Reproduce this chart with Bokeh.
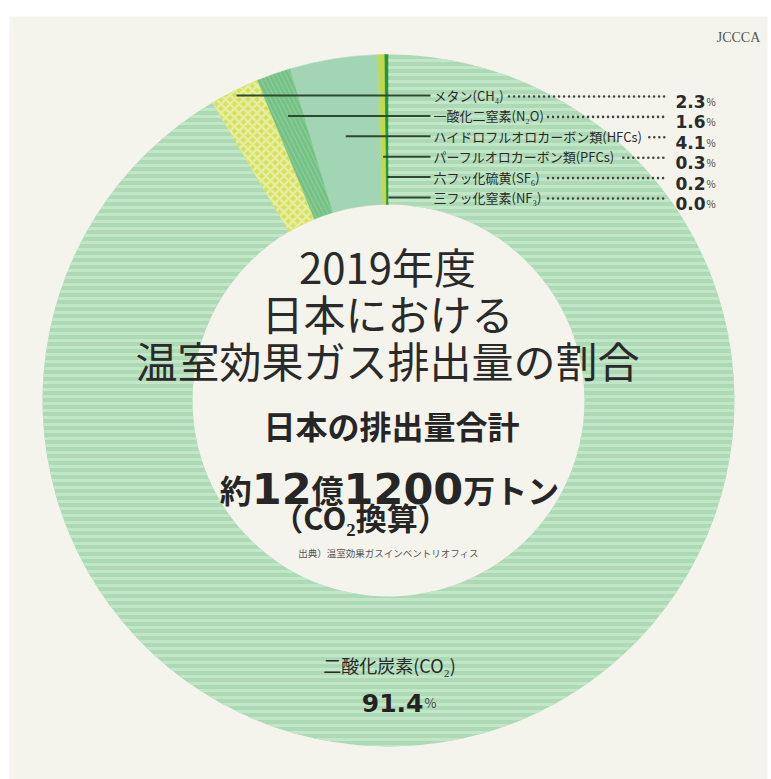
import math
from bokeh.plotting import figure
from bokeh.models import Range1d
from bokeh.core.properties import value
from bokeh.embed import file_html
from bokeh.resources import INLINE

# ---------------- data ----------------
gas_labels = ["メタン(CH₄)", "一酸化二窒素(N₂O)", "ハイドロフルオロカーボン類(HFCs)",
              "パーフルオロカーボン類(PFCs)", "六フッ化硫黄(SF₆)", "三フッ化窒素(NF₃)"]
gas_shares = [2.3, 1.6, 4.1, 0.3, 0.2, 0.0]
gas_colors = ["#d5e15a", "#86cb95", "#a2d5b3", "#c4d94a", "#22973a", "#1b8f33"]
gas_hatch = ["diagonal_cross", "left_diagonal_line", None, None, None, None]
gas_hatch_colors = ["#e8eea8", "#72c083", None, None, None, None]
co2_label = "二酸化炭素(CO₂)"
co2_share = 91.4
title_lines = ["2019年度", "日本における", "温室効果ガス排出量の割合"]
total_heading = "日本の排出量合計"
total_parts = ["約", "12", "億", "1200", "万トン"]
total_kinds = ["kanji", "num", "kanji", "num", "kanji"]
total_note = "（CO₂換算）"
source_note = "出典）温室効果ガスインベントリオフィス"
logo_text = "JCCCA"

# ---------------- layout ----------------
W, H = 771, 779
JP = "Noto Sans CJK JP"
NUM = "DejaVu Sans"


def Y(py):
    return H - py


def est_w(s, fs):
    w = 0.0
    for ch in s:
        o = ord(ch)
        if o >= 0x2E80:
            w += fs
        elif ch in "₀₁₂₃₄₅₆₇₈₉":
            w += 0.45 * fs
        elif ch in "()":
            w += 0.33 * fs
        else:
            w += 0.62 * fs
    return w


p = figure(width=W, height=H, x_range=Range1d(0, W), y_range=Range1d(0, H),
           output_backend="svg", toolbar_location=None, x_axis_type=None, y_axis_type=None,
           min_border=0)
p.outline_line_color = None
p.background_fill_color = "white"
p.border_fill_color = "white"

# cream panel
p.quad(left=9, right=767, bottom=0, top=Y(16), fill_color="#f4f4ec", line_color=None)

# donut
CX, CY = 388, Y(400)
R_OUT, R_IN = 346, 196
total = sum(gas_shares) + co2_share
a = math.pi / 2
mids = [0.0] * len(gas_shares)
for i in reversed(range(len(gas_shares))):
    frac = gas_shares[i] / total * 2 * math.pi
    mids[i] = a + frac / 2 - math.pi / 2
    if frac > 0:
        kw = {}
        if gas_hatch[i]:
            kw = dict(hatch_pattern=value(gas_hatch[i]), hatch_color=gas_hatch_colors[i],
                      hatch_scale=9, hatch_weight=2.5, hatch_alpha=0.9)
        p.annular_wedge(x=CX, y=CY, inner_radius=R_IN, outer_radius=R_OUT,
                        start_angle=a, end_angle=a + frac, direction="anticlock",
                        fill_color=gas_colors[i], line_color=gas_colors[i], line_width=0.5, **kw)
    a += frac
p.annular_wedge(x=CX, y=CY, inner_radius=R_IN, outer_radius=R_OUT,
                start_angle=a, end_angle=math.pi / 2 + 2 * math.pi, direction="anticlock",
                fill_color="#acdab5", line_color=None,
                hatch_pattern=value("horizontal_line"), hatch_color="#c2e6c7",
                hatch_scale=7, hatch_weight=3)

# leader lines + labels
ROW0, STEP = 95, 20.4
rows = [ROW0 + STEP * i for i in range(len(gas_labels))]
LX_END, TX = 430, 433
x_starts = [CX - (400 - ry) * math.tan(m) for ry, m in zip(rows, mids)]
p.segment(x0=x_starts, y0=[Y(r) for r in rows], x1=[LX_END] * len(rows), y1=[Y(r) for r in rows],
          line_color="#2c4a2e", line_width=2)
p.text(x=[TX] * len(rows), y=[Y(r) for r in rows], text=gas_labels, text_font=value(JP),
       text_font_size="13px", text_baseline="middle", text_align="left", text_color="#2a2a2a")
dot_x0 = [TX + est_w(s, 13) + 6 for s in gas_labels]
p.segment(x0=dot_x0, y0=[Y(r + 1) for r in rows], x1=[666] * len(rows), y1=[Y(r + 1) for r in rows],
          line_color="#444444", line_width=2.6, line_dash="0 5", line_cap="round")
p.text(x=[705] * len(rows), y=[Y(r + 6) for r in rows], text=[f"{v:.1f}" for v in gas_shares],
       text_font=value(NUM), text_font_style="bold", text_font_size="17px",
       text_baseline="alphabetic", text_align="right", text_color="#2a2a2a")
p.text(x=[706] * len(rows), y=[Y(r + 6) for r in rows], text=["%"] * len(rows),
       text_font=value(JP), text_font_size="10px", text_baseline="alphabetic",
       text_align="left", text_color="#444444")

# centre title
for line, yy in zip(title_lines, [265, 312, 359]):
    p.text(x=[387], y=[Y(yy)], text=[line], text_font=value(JP), text_font_size="42px",
           text_align="center", text_baseline="middle", text_color="#2a2a2a")

p.text(x=[391], y=[Y(424)], text=[total_heading], text_font=value(JP), text_font_style="bold",
       text_font_size="32px", text_align="center", text_baseline="middle", text_color="#262626")

KFS, NFS = 32, 43
widths = [len(s) * KFS if k == "kanji" else len(s) * 0.696 * NFS for s, k in zip(total_parts, total_kinds)]
xx = 389 - sum(widths) / 2
for s, k, w in zip(total_parts, total_kinds, widths):
    if k == "kanji":
        p.text(x=[xx], y=[Y(488)], text=[s], text_font=value(JP), text_font_style="bold",
               text_font_size=f"{KFS}px", text_align="left", text_baseline="alphabetic",
               text_color="#262626")
    else:
        p.text(x=[xx], y=[Y(488)], text=[s], text_font=value(NUM), text_font_style="bold",
               text_font_size=f"{NFS}px", text_align="left", text_baseline="alphabetic",
               text_color="#262626")
    xx += w

p.text(x=[360], y=[Y(516)], text=[total_note], text_font=value(JP), text_font_style="bold",
       text_font_size="31px", text_align="center", text_baseline="middle", text_color="#262626")
p.text(x=[388], y=[Y(552)], text=[source_note], text_font=value(JP), text_font_size="9.5px",
       text_align="center", text_baseline="middle", text_color="#555555")

# CO2 label
p.text(x=[389], y=[Y(664)], text=[co2_label], text_font=value(JP), text_font_size="18px",
       text_align="center", text_baseline="middle", text_color="#2a2a2a")
p.text(x=[423], y=[Y(702)], text=[f"{co2_share:.1f}"], text_font=value(NUM), text_font_style="bold",
       text_font_size="25px", text_align="right", text_baseline="alphabetic", text_color="#222222")
p.text(x=[424], y=[Y(702)], text=["%"], text_font=value(JP), text_font_size="13px",
       text_align="left", text_baseline="alphabetic", text_color="#444444")

# logo
p.text(x=[738], y=[Y(37)], text=[logo_text], text_font=value("Liberation Serif"),
       text_font_size="14px", text_align="center", text_baseline="middle", text_color="#555555")

open("out.html", "w").write(file_html(p, INLINE))
